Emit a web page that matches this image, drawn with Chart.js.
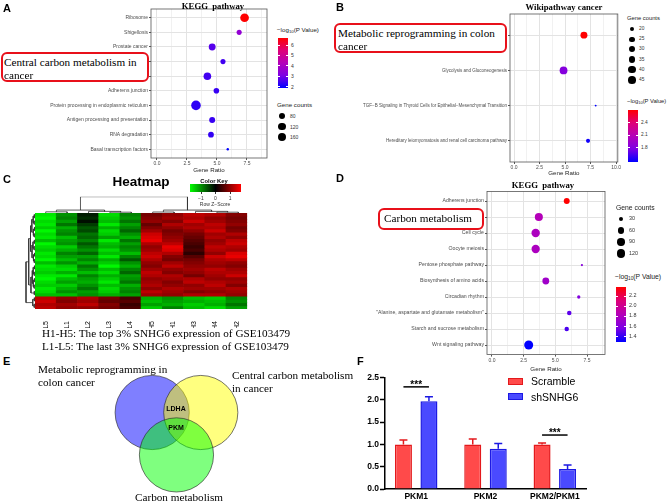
<!DOCTYPE html>
<html>
<head>
<meta charset="utf-8">
<script src="https://cdn.jsdelivr.net/npm/chart.js@4.4.0/dist/chart.umd.min.js"></script>
<style>
body { margin: 0; background: #fff; }
#fig { position: relative; width: 669px; height: 503px; overflow: hidden; font-family: "Liberation Sans", Arial, sans-serif; }
#fig canvas { position: absolute; }
.t { position: absolute; white-space: nowrap; line-height: 1; color: #000; }
.box { position: absolute; border: 2.5px solid #e8101a; border-radius: 6px; background: #fff; box-sizing: border-box; }
.sw { position: absolute; box-sizing: border-box; }
</style>
</head>
<body>
<div id="fig">
  <canvas id="cA" width="272" height="174" style="left:0;top:0"></canvas>
  <canvas id="cB" width="287" height="177" style="left:335px;top:0"></canvas>
  <canvas id="cD" width="275" height="193" style="left:335px;top:180px"></canvas>
  <canvas id="cHm" width="214" height="115" style="left:35px;top:213px"></canvas>
  <canvas id="cColTree" width="214" height="21" style="left:35px;top:194px"></canvas>
  <canvas id="cRowTree" width="15" height="98" style="left:20px;top:212px"></canvas>
  <canvas id="cE" width="204" height="148" style="left:78px;top:357px"></canvas>
  <canvas id="cF" width="334" height="138" style="left:335px;top:365px"></canvas>
</div>
<script>
// A: KEGG pathway
const keggA = ['Ribosome', 'Shigellosis', 'Prostate cancer', 'Central carbon metabolism in cancer',
  'Th17 cell differentiation', 'Adherens junction', 'Protein processing in endoplasmic reticulum',
  'Antigen processing and presentation', 'RNA degradation', 'Basal transcription factors'];
const ratioA = [7.3, 6.85, 4.6, 5.5, 4.2, 4.95, 3.25, 4.6, 4.5, 5.9];
const countA = [160, 54, 96, 54, 119, 64, 200, 72, 68, 30];
const logpA = [6.68, 3.55, 2.7, 2.5, 2.5, 2.4, 2.3, 2.4, 2.35, 1.87];
const countTicksA = [80, 120, 160];
const logpTicksA = [2, 3, 4, 5, 6];

// B: Wikipathway cancer
const wikiB = ['Metabolic reprogramming in colon cancer', 'Glycolysis and Gluconeogenesis',
  'TGF−B Signaling in Thyroid Cells for Epithelial−Mesenchymal Transition',
  'Hereditary leiomyomatosis and renal cell carcinoma pathway'];
const ratioB = [6.85, 4.85, 8.0, 7.25];
const countB = [38, 46, 16, 20];
const logpB = [2.71, 1.82, 1.46, 1.5];
const countTicksB = [20, 25, 30, 35, 40, 45];
const logpTicksB = [1.8, 2.1, 2.4];

// D: KEGG pathway
const keggD = ['Adherens junction', 'Carbon metabolism', 'Cell cycle', 'Oocyte meiosis',
  'Pentose phosphate pathway', 'Biosynthesis of amino acids', 'Circadian rhythm',
  '"Alanine, aspartate and glutamate metabolism"', 'Starch and sucrose metabolism', 'Wnt signaling pathway'];
const ratioD = [5.9, 3.7, 3.45, 3.45, 7.1, 4.25, 6.85, 6.1, 5.9, 2.9];
const countD = [57, 110, 122, 116, 22, 77, 25, 35, 35, 140];
const logpD = [2.376, 1.84, 1.8, 1.8, 1.62, 1.74, 1.6, 1.5, 1.46, 1.3];
const countTicksD = [30, 60, 90, 120];
const logpTicksD = [1.4, 1.6, 1.8, 2.0, 2.2];

// C: heatmap, row z-scores (columns in plotted order)
const hmCols = ['L5', 'L1', 'L2', 'L3', 'L4', 'H5', 'H1', 'H3', 'H4', 'H2'];
const hmZ = [
  [-1.6, -1.0, -0.2, -1.5, -0.9, 0.8, 1.0, 1.3, 1.2, 0.9],
  [-1.7, -0.9, -0.3, -1.4, -1.0, 0.9, 1.1, 1.2, 1.0, 0.8],
  [-1.5, -1.1, -0.1, -1.3, -0.8, 1.0, 0.9, 1.4, 1.1, 0.9],
  [-1.6, -0.8, -0.4, -1.6, -1.1, 0.7, 1.2, 1.1, 1.3, 1.0],
  [-1.4, -1.2, -0.6, -1.2, -0.9, 0.9, 1.0, 1.2, 1.2, 0.8],
  [-1.7, -1.0, -0.5, -1.5, -0.7, 1.1, 0.8, 1.0, 1.4, 0.9],
  [-1.5, -0.9, -0.8, -1.4, -1.0, 1.4, 0.9, 0.8, 1.1, 1.2],
  [-1.6, -1.3, -0.7, -1.1, -1.2, 1.5, 1.0, 0.7, 1.2, 1.0],
  [-1.3, -1.1, -0.9, -1.6, -0.8, 1.6, 1.1, 0.6, 1.0, 1.3],
  [-1.7, -1.0, -0.6, -1.3, -1.1, 1.2, 1.3, 0.5, 1.1, 1.4],
  [-1.5, -1.4, -0.8, -1.2, -0.9, 1.0, 1.6, 0.4, 1.3, 1.2],
  [-1.4, -1.2, -1.0, -1.5, -1.0, 1.1, 1.5, 0.5, 1.2, 1.1],
  [-1.6, -0.9, -0.7, -1.3, -1.3, 1.3, 1.2, 0.3, 1.0, 1.5],
  [-1.5, -1.1, -1.1, -1.6, -0.9, 1.4, 0.9, 0.6, 1.4, 1.6],
  [-1.7, -1.3, -0.9, -1.2, -0.6, 1.2, 0.8, 0.8, 1.2, 1.3],
  [-1.3, -1.0, -1.2, -1.4, -1.0, 1.0, 1.1, 0.9, 1.1, 1.0],
  [-1.6, -1.4, -0.8, -1.7, -1.2, 0.9, 1.3, 1.0, 1.0, 0.9],
  [-1.5, -1.5, -1.0, -1.3, -0.9, 1.1, 1.0, 1.1, 1.3, 1.1],
  [-1.4, -1.2, -1.3, -1.5, -0.7, 1.3, 0.9, 1.0, 1.2, 1.2],
  [-1.6, -1.6, -0.9, -1.2, -1.1, 1.2, 1.2, 0.8, 1.1, 1.4],
  [-1.7, -1.3, -1.1, -1.4, -1.0, 1.0, 1.1, 1.2, 1.0, 1.0],
  [-1.5, -1.1, -1.2, -1.6, -0.8, 1.1, 0.9, 1.3, 1.2, 1.1],
  [-1.4, -1.4, -1.0, -1.3, -1.2, 1.2, 1.0, 1.0, 1.3, 0.9],
  [-1.6, -1.2, -0.8, -1.5, -1.0, 1.0, 1.2, 1.1, 1.1, 1.2],
  [-1.5, -1.0, -1.1, -1.4, -0.9, 1.3, 1.1, 0.9, 1.0, 1.1],
  [-1.3, -1.3, -1.0, -1.2, -1.1, 1.1, 1.0, 1.2, 1.2, 1.0],
  [1.3, 1.0, 1.2, 0.8, 0.5, -1.2, -1.0, -1.3, -1.4, -0.9],
  [1.4, 0.9, 1.1, 0.7, 0.6, -1.3, -1.1, -1.2, -1.3, -1.0],
  [1.2, 1.1, 1.3, 0.9, 0.4, -1.1, -1.2, -1.4, -1.2, -0.8],
  [1.3, 1.0, 1.0, 0.8, 0.5, -1.4, -0.9, -1.3, -1.5, -1.1]
];
const zKeyTicks = [-1, 0, 1];
// dendrogram merges: [left pos, left height, right pos, right height, merge height]
const colMerges = [
  [0, 0, 1, 0, 0.07], [3, 0, 4, 0, 0.05], [2, 0, 3.5, 0.05, 0.1], [0.5, 0.07, 2.75, 0.1, 0.18],
  [5, 0, 6, 0, 0.06], [8, 0, 9, 0, 0.05], [7, 0, 8.5, 0.05, 0.1], [5.5, 0.06, 7.75, 0.1, 0.18],
  [1.625, 0.18, 6.625, 0.18, 1.0]
];
const rowMerges = [
  [0, 0, 1, 0, .08], [2, 0, 3, 0, .1], [4, 0, 5, 0, .06], [6, 0, 7, 0, .09], [8, 0, 9, 0, .07],
  [10, 0, 11, 0, .1], [12, 0, 13, 0, .05], [14, 0, 15, 0, .08], [16, 0, 17, 0, .06], [18, 0, 19, 0, .09],
  [20, 0, 21, 0, .07], [22, 0, 23, 0, .1], [24, 0, 25, 0, .08], [26, 0, 27, 0, .07], [28, 0, 29, 0, .09],
  [.5, .08, 2.5, .1, .2], [4.5, .06, 6.5, .09, .18], [8.5, .07, 10.5, .1, .22], [12.5, .05, 14.5, .08, .17],
  [16.5, .06, 18.5, .09, .2], [20.5, .07, 22.5, .1, .19], [26.5, .07, 28.5, .09, .25],
  [1.5, .2, 5.5, .18, .35], [9.5, .22, 13.5, .17, .33], [17.5, .2, 21.5, .19, .3],
  [3.5, .35, 11.5, .33, .5], [19.5, .3, 24.5, .08, .45],
  [7.5, .5, 22, .45, .7],
  [14.75, .7, 27.5, .25, 1.0]
];

// E: Venn (set centres and radius in plot units)
const vennX = [0, 1.31, 0.655];
const vennY = [0, 0, -1.146];
const vennR = [1, 1, 1];

// F: qPCR
const genesF = ['PKM1', 'PKM2', 'PKM2/PKM1'];
const scramble = [1.0, 1.0, 1.0];
const scrambleErr = [0.1, 0.12, 0.03];
const shSNHG6 = [1.97, 0.9, 0.45];
const shSNHG6Err = [0.1, 0.12, 0.09];
const sigF = [[0, 2.29], [2, 1.21]];

Chart.defaults.font.family = '"Liberation Sans", Arial, sans-serif';
Chart.defaults.animation = false;
Chart.defaults.responsive = false;
Chart.defaults.events = [];
Chart.defaults.plugins.legend.display = false;
Chart.defaults.plugins.tooltip.enabled = false;

const fig = document.getElementById('fig');
function T(x, y, html, css, anchor) {
  const d = document.createElement('div');
  d.className = 't';
  d.innerHTML = html;
  d.style.cssText = (css || '') + ';left:' + x + 'px;top:' + y + 'px;transform:' +
    (anchor === 'c' ? 'translate(-50%,-50%)' : anchor === 'r' ? 'translate(-100%,-50%)' : 'translateY(-50%)');
  fig.appendChild(d);
  return d;
}
function block(x, y, w, h, css, cls) {
  const d = document.createElement('div');
  d.className = cls || 'sw';
  d.style.cssText = 'left:' + x + 'px;top:' + y + 'px;width:' + w + 'px;height:' + h + 'px;' + (css || '');
  fig.appendChild(d);
  return d;
}

// blue -> red gradient like ggplot's default
const pStops = [[0, 0, 255], [125, 0, 228], [180, 0, 185], [222, 0, 120], [255, 0, 0]];
function pColor(v, lo, hi) {
  const t = Math.max(0, Math.min(1, (v - lo) / (hi - lo))) * (pStops.length - 1);
  const i = Math.min(Math.floor(t), pStops.length - 2), f = t - i;
  const c = pStops[i].map((a, k) => Math.round(a + (pStops[i + 1][k] - a) * f));
  return 'rgb(' + c.join(',') + ')';
}
function sizer(counts, k) {
  const lo = Math.min(...counts), hi = Math.max(...counts);
  return c => k * (1.5 + 4.5 * Math.sqrt(Math.max(0, (c - lo) / (hi - lo))));
}

const frame = {
  id: 'frame',
  beforeDatasetsDraw(chart) {
    const a = chart.chartArea, ctx = chart.ctx;
    ctx.save();
    ctx.strokeStyle = '#555';
    ctx.lineWidth = 0.8;
    ctx.strokeRect(a.left, a.top, a.right - a.left, a.bottom - a.top);
    ctx.restore();
  }
};

function dotPlot(id, o) {
  const lo = Math.min(...o.logp), hi = Math.max(...o.logp);
  const size = sizer(o.count, o.k);
  const n = o.cats.length;
  new Chart(document.getElementById(id), {
    type: 'scatter',
    data: {
      datasets: [{
        data: o.ratio.map((r, i) => ({ x: r, y: i })),
        backgroundColor: o.logp.map(v => pColor(v, lo, hi)),
        pointRadius: o.count.map(size),
        borderWidth: 0
      }]
    },
    options: {
      layout: { padding: { top: o.padTop, right: o.padRight, left: 0, bottom: 0 } },
      scales: {
        x: {
          min: o.xmin, max: o.xmax,
          ticks: {
            stepSize: 1.25, includeBounds: false, padding: 1, autoSkip: false, maxRotation: 0,
            font: { size: 5 }, color: '#4d4d4d',
            callback: v => (v % 2.5 === 0 ? v.toFixed(1) : '')
          },
          grid: {
            color: c => (c.tick.value % 2.5 === 0 ? '#e3e3e3' : '#f1f1f1'),
            tickColor: c => (c.tick.value % 2.5 === 0 ? '#555' : 'rgba(0,0,0,0)'),
            tickLength: 2
          },
          border: { display: false },
          title: { display: true, text: 'Gene Ratio', font: { size: 6.2 }, color: '#222', padding: 0 },
          afterFit: s => { s.height = o.xH; }
        },
        y: {
          reverse: true, min: -0.6, max: n - 0.4,
          afterBuildTicks: s => { s.ticks = o.cats.map((c, i) => ({ value: i })); },
          ticks: { autoSkip: false, padding: 1, font: { size: o.yFont }, color: '#4d4d4d', callback: v => o.cats[v] },
          grid: { color: '#e3e3e3', tickColor: '#555', tickLength: 2 },
          border: { display: false },
          afterFit: s => { s.width = o.yW; }
        }
      }
    },
    plugins: [frame]
  });

  // legends
  const L = o.legend;
  const tFont = 'font-size:' + L.titleSize + 'px;color:#222';
  const lFont = 'font-size:' + L.labSize + 'px;color:#333';
  T(L.sx, L.sy, 'Gene counts', tFont);
  o.countTicks.forEach((c, i) => {
    const r = size(c), cy = L.sy + L.s0 + i * L.sGap;
    block(L.sx + 5 - r, cy - r, 2 * r, 2 * r, 'background:#000;border-radius:50%');
    T(L.sx + L.sLab, cy, String(c), lFont);
  });
  T(L.cx, L.cy, '−log<sub style="font-size:70%;vertical-align:-1px">10</sub>(P Value)', tFont);
  const grad = 'linear-gradient(to top,' + pStops.map(c => 'rgb(' + c.join(',') + ')').join(',') + ')';
  block(L.cx + 1, L.barTop, 10, L.barH, 'background:' + grad);
  o.logpTicks.forEach(v => {
    const y = L.barTop + (hi - v) / (hi - lo) * L.barH;
    block(L.cx + 1, y - 0.4, 2, 0.8, 'background:#fff');
    block(L.cx + 9, y - 0.4, 2, 0.8, 'background:#fff');
    T(L.cx + 14, y, (o.logpTicks.some(t => t % 1 !== 0) ? v.toFixed(1) : String(v)), lFont);
  });
}

dotPlot('cA', {
  cats: keggA, ratio: ratioA, count: countA, logp: logpA, countTicks: countTicksA, logpTicks: logpTicksA,
  k: 0.8, xmin: -0.5, xmax: 9.17, yW: 151, xH: 16, padTop: 9, padRight: 5, yFont: 5,
  legend: { sx: 277, sy: 105, s0: 11, sGap: 10.5, sLab: 13, titleSize: 6.2, labSize: 5,
            cx: 277, cy: 31, barTop: 38, barH: 50 }
});
dotPlot('cB', {
  cats: wikiB, ratio: ratioB, count: countB, logp: logpB, countTicks: countTicksB, logpTicks: logpTicksB,
  k: 0.65, xmin: -0.4, xmax: 10.17, yW: 175, xH: 15, padTop: 14, padRight: 4, yFont: 4.5,
  legend: { sx: 627, sy: 19, s0: 10, sGap: 10.2, sLab: 12, titleSize: 5.8, labSize: 4.8,
            cx: 627, cy: 102, barTop: 110, barH: 52 }
});
dotPlot('cD', {
  cats: keggD, ratio: ratioD, count: countD, logp: logpD, countTicks: countTicksD, logpTicks: logpTicksD,
  k: 0.75, xmin: -0.39, xmax: 8.92, yW: 152, xH: 18.4, padTop: 11.4, padRight: 5, yFont: 5.2,
  legend: { sx: 616, sy: 208, s0: 11, sGap: 11.5, sLab: 13, titleSize: 6.8, labSize: 5.4,
            cx: 615, cy: 278, barTop: 287, barH: 55 }
});

// C: heatmap as stacked unit bars coloured by z-score
const zMax = 1.75;
function zColor(z) {
  const v = Math.round(255 * Math.min(1, Math.abs(z) / zMax));
  return z < 0 ? 'rgb(0,' + v + ',0)' : 'rgb(' + v + ',0,0)';
}
new Chart(document.getElementById('cHm'), {
  type: 'bar',
  data: {
    labels: hmCols,
    datasets: hmZ.map(row => ({
      data: row.map(() => 1),
      backgroundColor: row.map(zColor),
      borderWidth: 0, barPercentage: 1, categoryPercentage: 1
    }))
  },
  options: {
    layout: { padding: 0 },
    scales: {
      x: {
        stacked: true,
        grid: { display: false }, border: { display: false },
        ticks: { minRotation: 90, maxRotation: 90, padding: 4, font: { size: 7 }, color: '#000', autoSkip: false },
        afterFit: s => { s.height = 19; }
      },
      y: { stacked: true, display: false, min: 0, max: hmZ.length, reverse: true }
    }
  }
});

function dendro(id, merges, horizontal, xs, ys, pad) {
  const pts = [];
  merges.forEach(([a, ha, b, hb, h]) => {
    [[a, ha], [a, h], [b, h], [b, hb]].forEach(([p, v]) => pts.push(horizontal ? { x: v, y: p } : { x: p, y: v }));
    pts.push({ x: 0, y: null });
  });
  new Chart(document.getElementById(id), {
    type: 'scatter',
    data: { datasets: [{ data: pts, showLine: true, spanGaps: false, borderColor: '#333', borderWidth: 0.8, pointRadius: 0 }] },
    options: {
      layout: { padding: pad },
      scales: { x: Object.assign({ display: false }, xs), y: Object.assign({ display: false }, ys) }
    }
  });
}
dendro('cColTree', colMerges, false, { min: -0.5, max: hmCols.length - 0.5 }, { min: 0, max: 1 },
  { top: 2.7, bottom: 2, left: 0, right: 0 });
dendro('cRowTree', rowMerges, true, { min: 0, max: 1.67, reverse: true }, { min: -0.5, max: hmZ.length - 0.5, reverse: true },
  { top: 1, bottom: 1, left: 0, right: 0 });

// E: Venn diagram
new Chart(document.getElementById('cE'), {
  type: 'scatter',
  data: {
    datasets: [{
      data: vennX.map((x, i) => ({ x: x, y: vennY[i] })),
      backgroundColor: ['rgba(0,0,255,0.5)', 'rgba(255,255,0,0.5)', 'rgba(0,255,0,0.5)'],
      borderColor: 'rgba(40,40,40,0.8)', borderWidth: 0.8,
      pointRadius: c => {
        const s = c.chart.scales.x;
        return s.getPixelForValue(vennR[c.dataIndex]) - s.getPixelForValue(0);
      }
    }]
  },
  options: {
    layout: { padding: 0 },
    scales: { x: { display: false, min: -2, max: 3.5 }, y: { display: false, min: -2.5, max: 1.5 } }
  }
});

// F: bars with error bars and significance marks
const errPlugin = {
  id: 'errbars',
  afterDatasetsDraw(chart) {
    const ctx = chart.ctx, y = chart.scales.y;
    ctx.save();
    ctx.lineWidth = 1.5;
    chart.data.datasets.forEach((ds, di) => {
      chart.getDatasetMeta(di).data.forEach((bar, i) => {
        const top = y.getPixelForValue(ds.data[i].y + ds.errors[i]);
        ctx.strokeStyle = ds.borderColor;
        ctx.beginPath();
        ctx.moveTo(bar.x, bar.y);
        ctx.lineTo(bar.x, top);
        ctx.moveTo(bar.x - 4, top);
        ctx.lineTo(bar.x + 4, top);
        ctx.stroke();
      });
    });
    ctx.strokeStyle = '#000';
    ctx.fillStyle = '#000';
    ctx.font = 'bold 10px "Liberation Sans"';
    ctx.textAlign = 'center';
    ctx.textBaseline = 'alphabetic';
    sigF.forEach(([cat, v]) => {
      const a = chart.getDatasetMeta(0).data[cat], b = chart.getDatasetMeta(1).data[cat];
      const py = y.getPixelForValue(v);
      ctx.beginPath();
      ctx.moveTo(a.x, py);
      ctx.lineTo(b.x, py);
      ctx.stroke();
      ctx.fillText('***', (a.x + b.x) / 2, py + 1);
    });
    ctx.restore();
  }
};
const boldTick = { size: 8.5, weight: 'bold' };
new Chart(document.getElementById('cF'), {
  type: 'bar',
  data: {
    datasets: [
      { label: 'Scramble', data: genesF.map((g, i) => ({ x: i, y: scramble[i] })), errors: scrambleErr,
        backgroundColor: '#ff4a4a', borderColor: '#e3191c', borderWidth: 1.5, categoryPercentage: 0.736, barPercentage: 0.667 },
      { label: 'shSNHG6', data: genesF.map((g, i) => ({ x: i, y: shSNHG6[i] })), errors: shSNHG6Err,
        backgroundColor: '#4a4aff', borderColor: '#1c19e3', borderWidth: 1.5, categoryPercentage: 0.736, barPercentage: 0.667 }
    ]
  },
  options: {
    layout: { padding: { top: 12.5, right: 83, left: 0, bottom: 0 } },
    scales: {
      x: {
        type: 'linear', min: -0.45, max: 2.45, offset: false,
        afterBuildTicks: s => { s.ticks = genesF.map((g, i) => ({ value: i })); },
        ticks: { callback: v => genesF[v], font: boldTick, color: '#000', padding: 3, autoSkip: false, maxRotation: 0 },
        grid: { display: true, offset: false, drawOnChartArea: false, drawTicks: false },
        border: { color: '#000', width: 1.5 },
        afterFit: s => { s.height = 14; }
      },
      y: {
        min: 0, max: 2.5,
        ticks: { stepSize: 0.5, callback: v => v.toFixed(1), font: boldTick, color: '#000', padding: 1 },
        grid: { drawOnChartArea: false, tickLength: 5, tickColor: '#000', tickWidth: 1.5 },
        border: { color: '#000', width: 1.5 },
        afterFit: s => { s.width = 50; }
      }
    }
  },
  plugins: [errPlugin]
});

// ---- text, annotation boxes, keys ----
const letter = 'font:bold 11px "Liberation Sans"';
T(3, 8, 'A', letter);
T(336, 7, 'B', letter);
T(3, 179, 'C', letter);
T(336, 178, 'D', letter);
T(3, 361, 'E', letter);
T(357, 361, 'F', letter);

const ttl = 'font:bold 8.7px "Liberation Serif"';
T(213, 5.5, 'KEGG&nbsp; pathway', ttl, 'c');
T(564, 7, 'Wikipathway cancer', ttl, 'c');
T(543, 185, 'KEGG&nbsp; pathway', ttl, 'c');

const serif = 'font:11.2px "Liberation Serif"';
block(1, 52, 148, 30, '', 'box');
T(4, 62.3, 'Central carbon metabolism in', serif);
T(4, 75, 'cancer', serif);
block(334, 23, 173, 30, '', 'box');
T(338, 33.3, 'Metabolic reprogramming in colon', serif);
T(338, 46, 'cancer', serif);
block(378, 208, 106, 22, '', 'box');
T(384, 217.5, 'Carbon metabolism', serif);

// heatmap title and colour key
T(141, 181, 'Heatmap', 'font:bold 13.5px "Liberation Sans"', 'c');
T(214, 180.5, 'Color Key', 'font:bold 5.8px "Liberation Sans"', 'c');
block(190, 184, 51, 8, 'background:linear-gradient(to right,rgb(0,255,0),#000,rgb(255,0,0))');
zKeyTicks.forEach(v => {
  const x = 190 + (v + zMax) / (2 * zMax) * 51;
  block(x - 0.4, 192, 0.8, 2, 'background:#333');
  T(x, 197.5, v < 0 ? '−' + Math.abs(v) : String(v), 'font:5px "Liberation Sans";color:#333', 'c');
});
T(215, 203.5, 'Row Z−Score', 'font:5px "Liberation Sans";color:#333', 'c');
T(42, 333, 'H1-H5: The top 3% SNHG6 expression of GSE103479', serif);
T(42, 346, 'L1-L5: The last 3% SNHG6 expression of GSE103479', serif);

// Venn labels
T(38, 369, 'Metabolic reprogramming in', serif);
T(38, 382, 'colon cancer', serif);
T(232, 375, 'Central carbon metabolism', serif);
T(232, 388, 'in cancer', serif);
T(179, 497, 'Carbon metabolism', serif, 'c');
T(176, 408, 'LDHA', 'font:bold 7px "Liberation Sans"', 'c');
T(176, 427, 'PKM', 'font:bold 7px "Liberation Sans"', 'c');

// F legend
block(508, 377.5, 15, 7, 'background:#ff4a4a;border:1.5px solid #e3191c');
T(531, 381, 'Scramble', 'font:10.5px "Liberation Sans"');
block(508, 393, 15, 7, 'background:#4a4aff;border:1.5px solid #1c19e3');
T(531, 396.5, 'shSNHG6', 'font:10.5px "Liberation Sans"');
</script>
</body>
</html>
